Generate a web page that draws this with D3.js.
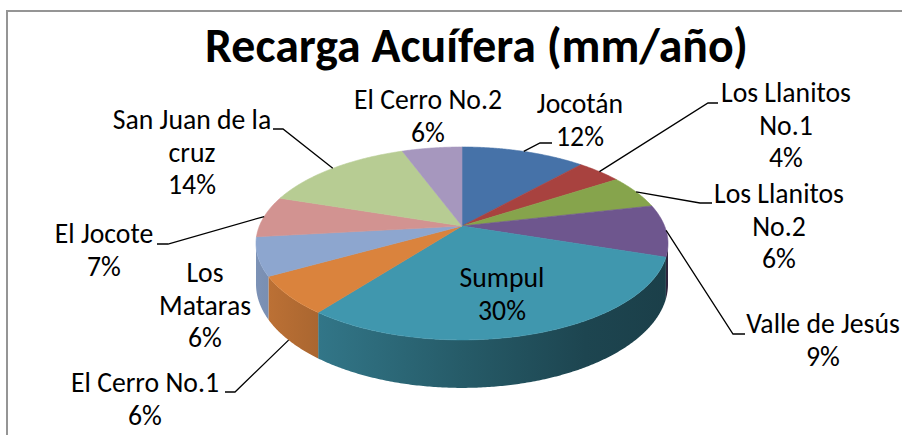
<!DOCTYPE html>
<html><head><meta charset="utf-8">
<script src="https://cdn.jsdelivr.net/npm/d3@7"></script>
<style>html,body{margin:0;padding:0;background:#fff;} svg{display:block;}</style>
</head><body><svg id="c" width="902" height="435"></svg>
<script>
// ---- data ----
const title = "Recarga Acuífera (mm/año)";
const categories = ["Jocotán","Los Llanitos No.1","Los Llanitos No.2","Valle de Jesús","Sumpul","El Cerro No.1","Los Mataras","El Jocote","San Juan de la cruz","El Cerro No.2"];
const values = [11.6, 4.2, 5.6, 8.7, 30.3, 6.4, 6.4, 6.9, 14.3, 5.6];
const labelLines = [["Jocotán"],["Los Llanitos","No.1"],["Los Llanitos","No.2"],["Valle de Jesús"],["Sumpul"],["El Cerro No.1"],["Los","Mataras"],["El Jocote"],["San Juan de la","cruz"],["El Cerro No.2"]];
const colors = ["#4672A8","#A8423F","#86A44C","#6E568E","#4097AE","#DA833D","#8DA6CF","#D29391","#B7CC93","#A697BE"];

// ---- layout (not data) ----
const labelLayout = [
  {x:580, y:113, elbow:[540,143], end:552},
  {x:786, y:102, elbow:[708,103], end:718},
  {x:779, y:203, elbow:[700,203], end:712},
  {x:823, y:333, elbow:[733,334], end:745},
  {x:502, y:287},
  {x:145, y:392, elbow:[235,392], end:225},
  {x:205, y:282},
  {x:104, y:243, elbow:[168,244], end:157},
  {x:192, y:129, elbow:[283,129], end:273},
  {x:428, y:109}
];
const FONT = "Carlito, Calibri, Lato, 'Noto Sans', sans-serif";

const svg = d3.select("#c");
const W = 902, H0 = 435;

// frame
svg.append("path").attr("d","M7,436 L7,11 L903,11")
  .attr("fill","none").attr("stroke","#959595").attr("stroke-width",2);

// projection of a horizontal disc with perspective
const cx=462, cy=226, A=202.6, B=93.3, K=0.181, DEPTH=39.3;
function P(phi, r, z){
  const u=r*Math.sin(phi), v=-r*Math.cos(phi), w=1-K*v;
  return [cx+A*u/w, cy+(B*v+DEPTH*z)/w];
}
function arcPts(a0, a1, z){
  const n = Math.max(2, Math.ceil(Math.abs(a1-a0)/(Math.PI/360)));
  return d3.range(n+1).map(i=>P(a0+(a1-a0)*i/n, 1, z));
}

const pie = d3.pie().sort(null).value(d=>d);
const arcs = pie(values);
const total = d3.sum(values);
const line = d3.line();

const defs = svg.append("defs");
const visA = Math.acos(-K), visB = 2*Math.PI - Math.acos(-K);
const xL = P(visB,1,0)[0], xR = P(visA,1,0)[0];
const shade = [[0,0.88],[0.15,0.78],[0.5,0.6],[0.8,0.46],[1,0.42]];

// walls
arcs.forEach((a,i)=>{
  const s=Math.max(a.startAngle,visA), e=Math.min(a.endAngle,visB);
  if (e<=s) return;
  const g = defs.append("linearGradient").attr("id","w"+i)
    .attr("gradientUnits","userSpaceOnUse").attr("x1",xL).attr("x2",xR).attr("y1",0).attr("y2",0);
  const c = d3.rgb(colors[i]);
  shade.forEach(([o,f])=>g.append("stop").attr("offset",o)
    .attr("stop-color", d3.rgb(c.r*f,c.g*f,c.b*f).formatHex()));
  const pts = arcPts(s,e,0).concat(arcPts(e,s,1));
  svg.append("path").attr("d", line(pts)+"Z").attr("fill","url(#w"+i+")");
});

// tops
arcs.forEach((a,i)=>{
  const pts = [[cx,cy]].concat(arcPts(a.startAngle,a.endAngle,0));
  svg.append("path").attr("d", line(pts)+"Z").attr("fill",colors[i])
    .attr("stroke",colors[i]).attr("stroke-width",0.6).attr("stroke-linejoin","round");
});

// font sizing by measurement
function measure(txt, size, weight){
  const t = svg.append("text").attr("font-family",FONT).attr("font-size",size)
    .attr("font-weight",weight).text(txt);
  const w = t.node().getComputedTextLength(); t.remove(); return w;
}
const labelFS = 20*148/measure("El Cerro No.1",20,"normal");
const titleFS = 40*543/measure(title,40,"bold");

svg.append("text").attr("x",476.5).attr("y",62).attr("text-anchor","middle")
  .attr("font-family",FONT).attr("font-weight","bold").attr("font-size",titleFS)
  .attr("fill","#000").text(title);

// labels + leaders
const LH = 32.5;
arcs.forEach((a,i)=>{
  const L = labelLayout[i];
  const lines = labelLines[i].concat([Math.round(a.data/total*100)+"%"]);
  const t = svg.append("text").attr("font-family",FONT).attr("font-size",labelFS)
    .attr("text-anchor","middle").attr("fill","#000");
  lines.forEach((s,j)=>t.append("tspan").attr("x",L.x).attr("y",L.y+j*LH).text(s));
  if (L.elbow){
    const mid=(a.startAngle+a.endAngle)/2;
    const front = -Math.cos(mid) > 0.4;
    const p0 = P(mid,1,front?1:0);
    svg.append("path").attr("d", line([p0, L.elbow, [L.end, L.elbow[1]]]))
      .attr("fill","none").attr("stroke","#000").attr("stroke-width",1.3);
  }
});
</script></body></html>
